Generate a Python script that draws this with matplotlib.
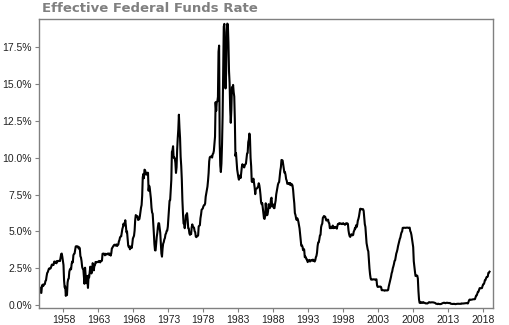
import matplotlib.pyplot as plt
import numpy as np
from matplotlib.ticker import FuncFormatter

# Monthly effective federal funds rate (%), starting July 1954
rates_1950s = [
    0.80, 1.22, 1.07, 0.85, 0.83, 1.28,
    1.39, 1.29, 1.35, 1.43, 1.43, 1.64, 1.68, 1.96, 2.18, 2.24, 2.35, 2.48,
    2.45, 2.50, 2.50, 2.62, 2.75, 2.71, 2.75, 2.73, 2.95, 2.96, 2.88, 2.94,
    2.84, 3.00, 2.96, 3.00, 3.00, 3.00, 2.99, 3.24, 3.47, 3.50, 3.28, 2.98,
    2.72, 1.67, 1.20, 1.26, 0.63, 0.93, 0.68, 1.53, 1.76, 1.80, 2.27, 2.42,
    2.48, 2.43, 2.80, 2.96, 2.90, 3.39, 3.47, 3.50, 3.76, 3.98, 4.00, 3.99,
]
rates_1960s = [
    3.99, 3.97, 3.84, 3.92, 3.85, 3.32, 3.23, 2.98, 2.60, 2.47, 2.44, 1.98,
    1.45, 2.54, 2.02, 1.49, 1.98, 1.73, 1.17, 2.00, 1.88, 2.26, 2.61, 2.33,
    2.15, 2.37, 2.85, 2.78, 2.36, 2.68, 2.71, 2.93, 2.90, 2.90, 2.94, 2.93,
    2.92, 3.00, 2.98, 2.90, 3.00, 2.99, 3.02, 3.49, 3.48, 3.50, 3.48, 3.38,
    3.48, 3.48, 3.43, 3.47, 3.50, 3.50, 3.42, 3.50, 3.45, 3.36, 3.52, 3.85,
    3.90, 3.98, 4.04, 4.09, 4.10, 4.04, 4.09, 4.12, 4.01, 4.08, 4.10, 4.32,
    4.42, 4.60, 4.65, 4.67, 4.90, 5.17, 5.30, 5.53, 5.40, 5.53, 5.76, 5.40,
    4.94, 5.00, 4.53, 4.05, 3.94, 3.98, 3.79, 3.90, 3.99, 3.88, 4.13, 4.51,
    4.61, 4.71, 5.05, 5.76, 6.11, 6.07, 6.03, 6.03, 5.78, 5.91, 5.82, 6.02,
    6.30, 6.61, 6.79, 7.41, 8.67, 8.90, 8.61, 9.19, 9.15, 9.00, 8.85, 8.97,
]
rates_1970s = [
    8.98, 8.98, 7.76, 8.10, 7.95, 7.61, 7.21, 6.61, 6.29, 6.20, 5.60, 4.90,
    4.14, 3.72, 3.71, 4.16, 4.63, 4.91, 5.31, 5.56, 5.55, 5.20, 4.91, 4.14,
    3.50, 3.29, 3.83, 4.17, 4.27, 4.46, 4.55, 4.80, 4.87, 5.04, 5.06, 5.33,
    5.94, 6.58, 7.09, 7.12, 7.84, 8.49, 10.40, 10.50, 10.78, 10.01, 10.03, 9.95,
    9.65, 8.97, 9.35, 10.51, 11.31, 11.93, 12.92, 12.01, 11.34, 10.06, 9.45, 8.53,
    7.13, 6.24, 5.54, 5.49, 5.22, 5.55, 6.10, 6.14, 6.24, 5.82, 5.22, 5.20,
    4.87, 4.77, 4.84, 4.82, 5.29, 5.48, 5.31, 5.29, 5.25, 5.02, 4.95, 4.65,
    4.61, 4.68, 4.69, 4.73, 5.35, 5.39, 5.42, 5.90, 6.14, 6.47, 6.51, 6.56,
    6.70, 6.78, 6.79, 6.89, 7.36, 7.60, 7.81, 8.04, 8.45, 8.96, 9.76, 10.03,
    10.07, 10.06, 10.09, 10.01, 10.24, 10.29, 10.47, 10.94, 11.43, 13.77, 13.18, 13.78,
]
rates_1980s = [
    13.82, 14.13, 17.19, 17.61, 10.98, 9.47, 9.03, 9.61, 10.87, 12.81, 15.85, 18.90,
    19.08, 15.93, 14.70, 15.72, 18.52, 19.10, 19.04, 17.82, 15.87, 15.08, 13.31, 12.37,
    13.22, 14.78, 14.68, 14.94, 14.45, 14.15, 12.59, 10.12, 10.31, 9.71, 9.20, 8.95,
    8.68, 8.51, 8.77, 8.80, 8.63, 8.98, 9.37, 9.56, 9.45, 9.48, 9.34, 9.47,
    9.56, 9.59, 9.91, 10.29, 10.32, 11.06, 11.23, 11.64, 11.30, 9.99, 9.43, 8.38,
    8.35, 8.50, 8.58, 8.27, 7.97, 7.53, 7.88, 7.90, 7.92, 7.99, 8.05, 8.27,
    8.14, 7.86, 7.48, 6.99, 6.85, 6.92, 6.56, 6.17, 5.89, 5.85, 6.04, 6.91,
    6.43, 6.10, 6.13, 6.37, 6.85, 6.73, 6.58, 6.73, 7.22, 7.29, 6.69, 6.77,
    6.83, 6.58, 6.58, 6.87, 7.09, 7.51, 7.75, 8.01, 8.19, 8.30, 8.35, 8.76,
    9.12, 9.36, 9.85, 9.84, 9.81, 9.53, 9.24, 8.99, 9.02, 8.84, 8.55, 8.45,
]
rates_1990s = [
    8.23, 8.24, 8.28, 8.26, 8.18, 8.29, 8.15, 8.13, 8.20, 8.11, 7.81, 7.31,
    6.91, 6.25, 6.12, 5.91, 5.78, 5.90, 5.82, 5.66, 5.45, 5.21, 4.81, 4.43,
    4.03, 4.06, 3.98, 3.73, 3.82, 3.76, 3.25, 3.30, 3.22, 3.10, 3.09, 2.92,
    3.02, 3.03, 3.07, 2.96, 3.00, 3.04, 3.06, 3.03, 3.09, 2.99, 3.02, 2.96,
    3.05, 3.25, 3.34, 3.56, 4.01, 4.25, 4.26, 4.47, 4.73, 4.76, 5.29, 5.45,
    5.53, 5.92, 5.98, 6.05, 6.01, 6.00, 5.85, 5.74, 5.80, 5.76, 5.80, 5.60,
    5.56, 5.22, 5.31, 5.22, 5.24, 5.27, 5.40, 5.22, 5.30, 5.24, 5.31, 5.29,
    5.25, 5.19, 5.39, 5.51, 5.50, 5.56, 5.52, 5.54, 5.54, 5.50, 5.52, 5.50,
    5.56, 5.51, 5.49, 5.45, 5.49, 5.56, 5.54, 5.55, 5.51, 5.07, 4.83, 4.68,
    4.63, 4.76, 4.81, 4.74, 4.74, 4.76, 4.99, 5.07, 5.22, 5.20, 5.42, 5.30,
]
rates_2000s = [
    5.45, 5.73, 5.85, 6.02, 6.27, 6.53, 6.54, 6.50, 6.52, 6.51, 6.51, 6.40,
    5.98, 5.49, 5.31, 4.80, 4.21, 3.97, 3.77, 3.65, 3.07, 2.49, 2.09, 1.82,
    1.73, 1.74, 1.73, 1.75, 1.75, 1.75, 1.73, 1.74, 1.75, 1.75, 1.34, 1.24,
    1.24, 1.26, 1.25, 1.26, 1.26, 1.22, 1.01, 1.03, 1.01, 1.01, 1.00, 0.98,
    1.00, 1.01, 1.00, 1.00, 1.00, 1.03, 1.26, 1.43, 1.61, 1.76, 1.93, 2.16,
    2.28, 2.50, 2.63, 2.79, 3.00, 3.04, 3.26, 3.50, 3.62, 3.78, 4.00, 4.16,
    4.29, 4.49, 4.59, 4.79, 4.94, 4.99, 5.24, 5.25, 5.25, 5.25, 5.25, 5.24,
    5.25, 5.26, 5.26, 5.25, 5.25, 5.25, 5.26, 5.02, 4.94, 4.76, 4.49, 4.24,
    3.94, 2.98, 2.61, 2.28, 1.98, 2.00, 2.01, 2.00, 1.81, 0.97, 0.39, 0.16,
    0.15, 0.22, 0.18, 0.15, 0.18, 0.21, 0.16, 0.16, 0.15, 0.12, 0.12, 0.12,
]
rates_2010s = [
    0.11, 0.13, 0.16, 0.20, 0.20, 0.18, 0.18, 0.19, 0.19, 0.19, 0.19, 0.18,
    0.17, 0.16, 0.14, 0.10, 0.09, 0.09, 0.07, 0.10, 0.08, 0.07, 0.08, 0.07,
    0.08, 0.10, 0.13, 0.14, 0.16, 0.16, 0.16, 0.13, 0.14, 0.16, 0.16, 0.16,
    0.14, 0.15, 0.14, 0.15, 0.11, 0.09, 0.09, 0.08, 0.08, 0.09, 0.08, 0.09,
    0.07, 0.07, 0.08, 0.09, 0.09, 0.10, 0.09, 0.09, 0.09, 0.09, 0.09, 0.12,
    0.11, 0.11, 0.11, 0.12, 0.12, 0.13, 0.13, 0.14, 0.14, 0.12, 0.12, 0.24,
    0.34, 0.38, 0.36, 0.37, 0.37, 0.38, 0.39, 0.40, 0.40, 0.40, 0.41, 0.54,
    0.65, 0.66, 0.79, 0.90, 0.91, 1.04, 1.15, 1.16, 1.15, 1.15, 1.16, 1.30,
    1.41, 1.42, 1.51, 1.69, 1.70, 1.82, 1.91, 1.91, 1.95, 2.19, 2.20, 2.27,
]

rates = np.array(rates_1950s + rates_1960s + rates_1970s + rates_1980s
                 + rates_1990s + rates_2000s + rates_2010s)
years = 1954.5 + np.arange(len(rates)) / 12.0

year_ticks = [1958, 1963, 1968, 1973, 1978, 1983, 1988, 1993, 1998, 2003, 2008, 2013, 2018]
rate_ticks = [0.0, 2.5, 5.0, 7.5, 10.0, 12.5, 15.0, 17.5]

fig = plt.figure(figsize=(5.1, 3.25), dpi=100)
ax = fig.add_axes([0.0765, 0.052, 0.89, 0.889])

ax.plot(years, rates, color='black', linewidth=1.5)

ax.set_xlim(1954.5, 2019.4)
ax.set_ylim(-0.2, 19.4)
ax.set_xticks(year_ticks)
ax.set_yticks(rate_ticks)
ax.yaxis.set_major_formatter(FuncFormatter(lambda v, _: f"{v:.1f}%"))

for side in ['top', 'right', 'bottom', 'left']:
    ax.spines[side].set_color('#808080')
    ax.spines[side].set_linewidth(1)
ax.tick_params(axis='both', length=3, width=0.8, color='#808080',
               labelsize=7.5, labelcolor='#222222', pad=2)
for lbl in ax.get_xticklabels() + ax.get_yticklabels():
    lbl.set_family('Liberation Sans')

fig.text(0.082, 0.955, "Effective Federal Funds Rate", fontsize=9.5,
         fontweight='bold', color='#808080', ha='left', va='bottom')

fig.savefig('out.png', dpi=100)
